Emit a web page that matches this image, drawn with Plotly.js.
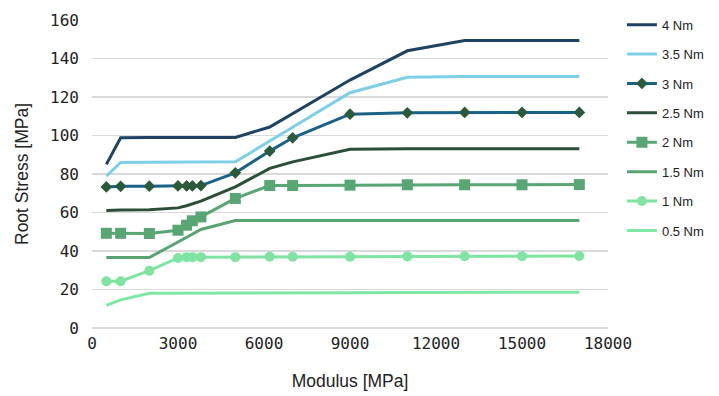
<!DOCTYPE html>
<html>
<head>
<meta charset="utf-8">
<script src="https://cdn.plot.ly/plotly-3.0.1.min.js"></script>
<style>html,body{margin:0;padding:0;background:#fff;}#chart{width:719px;height:396px;}</style>
</head>
<body>
<div id="chart"></div>
<script>
const modulus = [500, 1000, 2000, 3000, 3300, 3500, 3800, 5000, 6200, 7000, 9000, 11000, 13000, 15000, 17000];
const seriesNames = ['4 Nm', '3.5 Nm', '3 Nm', '2.5 Nm', '2 Nm', '1.5 Nm', '1 Nm', '0.5 Nm'];
const s4 = [85, 98.8, 98.9, 98.9, 98.9, 98.9, 98.9, 99, 104.4, 111.4, 128.8, 144, 149.4, 149.4, 149.4];
const s35 = [78.9, 86, 86.1, 86.2, 86.2, 86.2, 86.2, 86.3, 97.1, 104.3, 122.2, 130.2, 130.7, 130.7, 130.7];
const s3 = [73.3, 73.6, 73.7, 73.8, 73.8, 73.8, 74.0, 80.6, 91.9, 98.8, 111.1, 111.8, 112.0, 112.0, 112.0];
const s25 = [61, 61.3, 61.4, 62.4, 63.5, 64.5, 65.9, 73.3, 82.9, 86.3, 92.8, 93.1, 93.1, 93.1, 93.1];
const s2 = [49.2, 49.2, 49.1, 50.8, 53.4, 55.7, 57.7, 67.3, 74.0, 74.0, 74.2, 74.4, 74.4, 74.4, 74.5];
const s15 = [36.6, 36.6, 36.6, 44.7, 47.0, 48.6, 51.2, 55.8, 55.8, 55.8, 55.8, 55.8, 55.8, 55.8, 55.8];
const s1 = [24.3, 24.3, 29.8, 36.4, 36.8, 36.8, 36.8, 36.8, 37.0, 37.0, 37.0, 37.2, 37.3, 37.3, 37.4];
const s05 = [11.8, 14.6, 18.0, 18.0, 18.0, 18.0, 18.0, 18.1, 18.1, 18.2, 18.3, 18.4, 18.4, 18.5, 18.6];

const values = [s4, s35, s3, s25, s2, s15, s1, s05];
const lineColors = ['#1e4262', '#7ccfe6', '#1a6189', '#2a4e36', '#57a673', '#57a472', '#7fe3a2', '#7de8a5'];
const markers = [null, null, {symbol:'diamond', size:9, color:'#2a5a3a'}, null, {symbol:'square', size:11, color:'#57a673'}, null, {symbol:'circle', size:10, color:'#7fe3a2'}, null];

const traces = seriesNames.map((n, i) => {
  const t = {
    x: modulus, y: values[i], name: n, type: 'scatter',
    mode: markers[i] ? 'lines+markers' : 'lines',
    line: {color: lineColors[i], width: 3},
    legendgroup: 'g' + i
  };
  if (markers[i]) t.marker = markers[i];
  return t;
});

const titleFont = {family: 'Liberation Sans, Arial, sans-serif', size: 17.5, color: '#222'};
const tickFont = {family: 'DejaVu Sans Mono, monospace', size: 16, color: '#222'};

const layout = {
  width: 719, height: 396,
  margin: {l: 92, r: 111, t: 20, b: 68, autoexpand: false},
  paper_bgcolor: '#fff', plot_bgcolor: '#fff',
  showlegend: true,
  legend: {
    x: 1.027, xanchor: 'left', y: 1.0335, yanchor: 'top',
    font: {family: 'Liberation Sans, Arial, sans-serif', size: 13, color: '#222'},
    tracegroupgap: 9.5, itemwidth: 30, bgcolor: 'rgba(0,0,0,0)', maxheight: 1
  },
  xaxis: {
    range: [0, 18000], dtick: 3000, tick0: 0,
    showgrid: false, zeroline: false, showline: false,
    ticks: '', tickformat: 'd', ticklabelstandoff: 4,
    tickfont: tickFont,
    title: {text: 'Modulus [MPa]', font: titleFont, standoff: 22}
  },
  yaxis: {
    range: [0, 160], dtick: 20, tick0: 0,
    showgrid: true, gridcolor: '#d9d9d9', gridwidth: 1.5,
    zeroline: true, zerolinecolor: '#d9d9d9', zerolinewidth: 1.5,
    showline: false, ticks: '', ticklabelstandoff: 12,
    tickfont: tickFont,
    title: {text: 'Root Stress [MPa]', font: titleFont, standoff: 16}
  }
};

Plotly.newPlot('chart', traces, layout, {displayModeBar: false, staticPlot: true});
</script>
</body>
</html>
